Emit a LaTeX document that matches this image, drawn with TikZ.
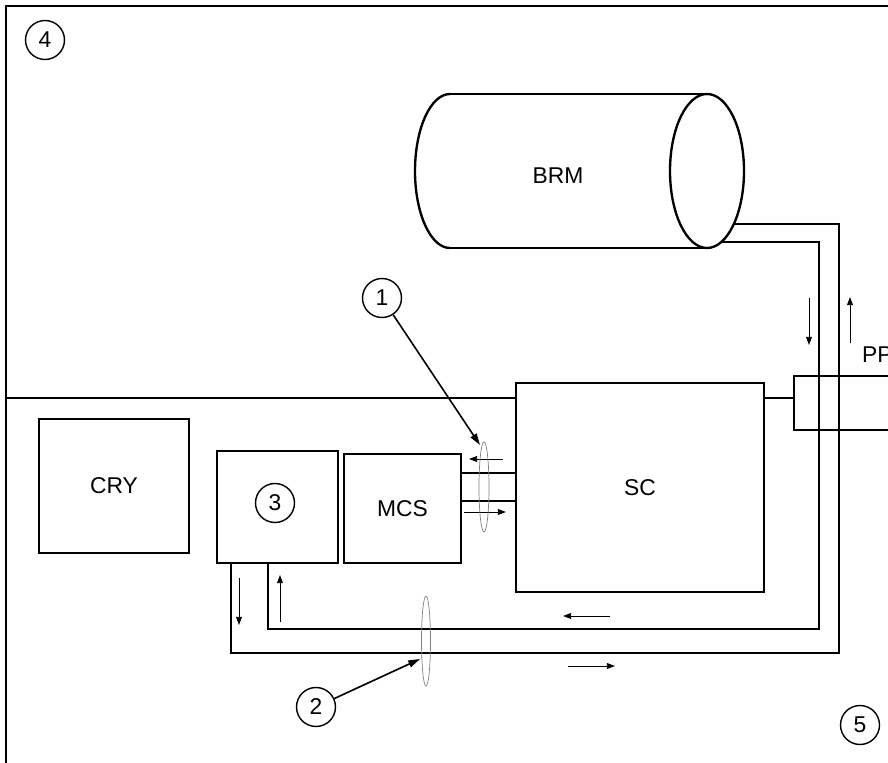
\documentclass[tikz,border=0pt]{standalone}
\usepackage{fontspec}
\setmainfont{Liberation Sans}
\usetikzlibrary{arrows.meta}

\tikzset{
  unitbox/.style={draw, line width=2pt, inner sep=0pt},
  callout/.style={draw, circle, line width=1.2pt, minimum size=1.17cm, inner sep=0pt},
  pipe/.style={line width=2pt},
  flow/.style={line width=0.8pt, -{Triangle[length=7pt,width=5pt]}},
  lead/.style={line width=1.4pt, -{Triangle[length=10pt,width=6pt]}},
  cable/.style={draw=gray, line width=0.6pt}
}

\begin{document}
\begin{tikzpicture}[x=0.03cm,y=-0.03cm,font=\fontsize{19.5}{23}\selectfont]
\useasboundingbox (0,0) rectangle (888,763);
\clip (0,0) rectangle (888,763);

% frame
\draw[line width=2.2pt] (6,800) |- (900,6);

% units
\node[unitbox, minimum width=4.5cm, minimum height=4.02cm] (cry) at (114,486) {CRY};
\node[unitbox, minimum width=3.63cm, minimum height=3.36cm] (box3) at (277.5,507) {};
\node[callout] (c3) at (275,503) {3};
\node[unitbox, minimum width=3.51cm, minimum height=3.27cm] (mcs) at (402.5,508.5) {MCS};
\node[unitbox, minimum width=7.44cm, minimum height=6.27cm] (sc) at (640,487.5) {SC};
\node[unitbox, minimum width=4.98cm, minimum height=1.62cm] (pp) at (877,403) {};
\node[anchor=west] (pplabel) at (858,355) {PP};

% divider
\coordinate (div) at (6,398);
\draw[pipe] (div) -- (div -| sc.west);
\draw[pipe] (sc.east |- div) -- (pp.west |- div);

% BRM
\draw[pipe] (450,94) -- (707,94) (450,248) -- (707,248);
\draw[pipe] (450,94) arc[start angle=270, end angle=90, x radius=35, y radius=77];
\draw[pipe] (707,171) ellipse[x radius=37, y radius=77];
\node (brm) at (558,176) {BRM};

% MCS - SC bus
\coordinate (bus1) at (0,473);
\coordinate (bus2) at (0,501);
\draw[pipe] (mcs.east |- bus1) -- (sc.west |- bus1);
\draw[pipe] (mcs.east |- bus2) -- (sc.west |- bus2);
\draw[flow] (503,459) -- (469,459);
\draw[flow] (464,512) -- (506,512);
\draw[cable] (484,487) ellipse[x radius=5, y radius=45];

% pipes to BRM
\coordinate (ob) at (839,653);
\coordinate (ib) at (819,629);
\coordinate (brmo) at (735,224);
\coordinate (brmi) at (721,242);
\draw[pipe] ([xshift=0.45cm]box3.south west) |- (ob) |- (brmo);
\draw[pipe] ([xshift=1.56cm]box3.south west) |- (ib) |- (brmi);
\draw[flow] (239,578) -- (239,625);
\draw[flow] (280,622) -- (280,575);
\draw[flow] (610,616) -- (563,616);
\draw[flow] (568,666) -- (615,666);
\draw[flow] (809,298) -- (809,345);
\draw[flow] (850,343) -- (850,297);
\draw[cable] (426,641) ellipse[x radius=4.5, y radius=45];

% callouts
\node[callout] (c1) at (382,298) {1};
\node[callout] (c2) at (316,707) {2};
\node[callout] (c4) at (45,40) {4};
\node[callout] (c5) at (860,725) {5};
\coordinate (tip1) at (480,445);
\coordinate (tip2) at (420,659);
\draw[lead] (c1) -- (tip1);
\draw[lead] (c2) -- (tip2);
\end{tikzpicture}
\end{document}
